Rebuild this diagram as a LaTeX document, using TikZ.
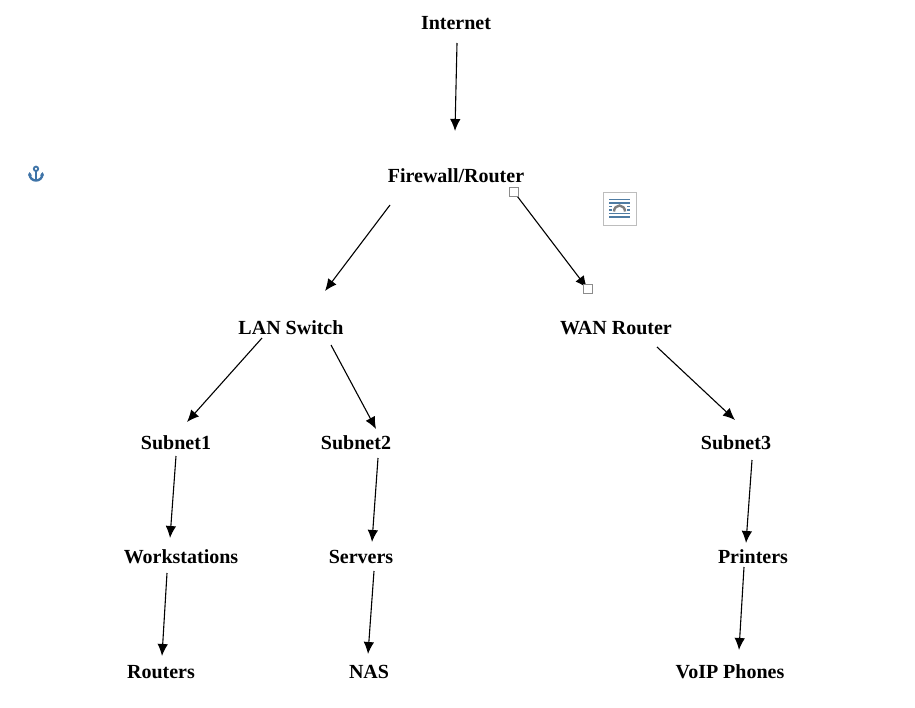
\documentclass[tikz,border=0pt]{standalone}
\usepackage{fontspec}
\setmainfont{Liberation Serif}
\usetikzlibrary{arrows.meta}
\definecolor{anchorblue}{HTML}{3F74A8}
\definecolor{handlegrey}{HTML}{8C8C8C}
\definecolor{iconline}{HTML}{4F7CA3}
\definecolor{icongrey}{HTML}{7F7F7F}
\definecolor{iconborder}{HTML}{BDBDBD}
\tikzset{
  lbl/.style={inner sep=0pt,font=\fontsize{20}{22}\selectfont\bfseries,text height=13pt,text depth=0pt,text=black},
  arr/.style={draw=black,line width=1.1pt,-{Latex[length=12pt,width=10.5pt]}},
  handle/.style={draw=handlegrey,fill=white,line width=1pt,minimum size=9pt,inner sep=0pt,shape=rectangle},
  iconln/.style={draw=iconline,line width=1.2pt}
}
\begin{document}
\begin{tikzpicture}[x=1pt,y=-1pt]
\useasboundingbox (0,0) rectangle (915,707);
\fill[white] (0,0) rectangle (915,707);
\node[lbl] (internet) at (456,22.5) {Internet};
\node[lbl] (fw) at (456,176) {Firewall/Router};
\node[lbl] (lan) at (291,328) {LAN Switch};
\node[lbl] (wan) at (616,328) {WAN Router};
\node[lbl] (s1) at (176,443) {Subnet1};
\node[lbl] (s2) at (356,443) {Subnet2};
\node[lbl] (s3) at (736,443) {Subnet3};
\node[lbl] (work) at (181,557) {Workstations};
\node[lbl] (serv) at (361,557) {Servers};
\node[lbl] (prin) at (753,557) {Printers};
\node[lbl] (rout) at (161,672) {Routers};
\node[lbl] (nas) at (369,672) {NAS};
\node[lbl] (voip) at (730,672) {VoIP Phones};
\draw[arr] ([shift={(1,20.5)}]internet.center) -- ([shift={(-1,-45)}]fw.center);
\draw[arr] ([shift={(-66,29)}]fw.center) -- ([shift={(34,-37)}]lan.center);
\draw[arr] ([shift={(58,16)}]fw.center) -- ([shift={(-29,-40)}]wan.center);
\draw[arr] ([shift={(-29,10)}]lan.center) -- ([shift={(11,-21)}]s1.center);
\draw[arr] ([shift={(40,17)}]lan.center) -- ([shift={(20,-14)}]s2.center);
\draw[arr] ([shift={(41,19)}]wan.center) -- ([shift={(-1,-23)}]s3.center);
\draw[arr] ([shift={(0,13)}]s1.center) -- ([shift={(-11,-19)}]work.center);
\draw[arr] ([shift={(22,15)}]s2.center) -- ([shift={(11,-15)}]serv.center);
\draw[arr] ([shift={(16,17)}]s3.center) -- ([shift={(-7,-14)}]prin.center);
\draw[arr] ([shift={(-14,16)}]work.center) -- ([shift={(1,-16)}]rout.center);
\draw[arr] ([shift={(13,14)}]serv.center) -- ([shift={(-1,-18)}]nas.center);
\draw[arr] ([shift={(-9,10)}]prin.center) -- ([shift={(9,-22)}]voip.center);
\node[handle] (h1) at (513.5,191.5) {};
\node[handle] (h2) at (587.5,289) {};
% anchor symbol
\draw[anchorblue,line width=1.8pt] (36,168.8) circle (2.2);
\draw[anchorblue,line width=2.2pt] (36,171) -- (36,181);
\draw[anchorblue,line width=2.4pt] (29.5,173.5) .. controls (29.5,178.5) and (33,180.5) .. (36,180.5) .. controls (39,180.5) and (42.5,178.5) .. (42.5,173.5);
\fill[anchorblue] (28,175.5) -- (29.5,172) -- (32,175.5) -- cycle;
\fill[anchorblue] (40,175.5) -- (42.5,172) -- (44,175.5) -- cycle;
% layout options icon
\draw[iconborder,fill=white,line width=1pt] (603,192) rectangle (636,225);
\draw[iconln] (609,199.5) -- (630,199.5);
\draw[iconln] (609,203) -- (630,203);
\draw[iconln] (609,206.5) -- (612,206.5) (627,206.5) -- (630,206.5);
\draw[iconln] (609,210) -- (612,210) (627,210) -- (630,210);
\draw[iconln] (609,213.5) -- (630,213.5);
\draw[iconln] (609,217) -- (630,217);
\draw[icongrey,line width=2.4pt] (614,211.5) arc[start angle=180,end angle=0,x radius=5.5,y radius=-6];
\end{tikzpicture}
\end{document}
